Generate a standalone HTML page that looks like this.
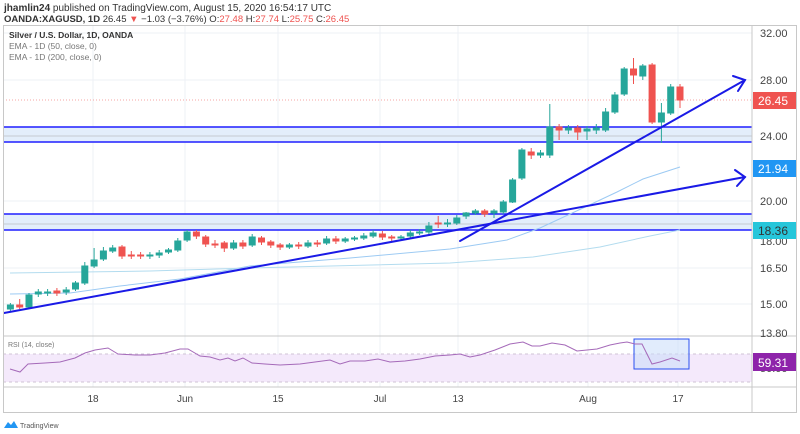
<!DOCTYPE html>
<html><head><meta charset="utf-8"><style>
body{margin:0;background:#fff;width:800px;height:434px;overflow:hidden;font-family:"Liberation Sans",sans-serif}
svg{position:absolute;left:0;top:0}
</style></head><body>
<svg width="800" height="434" viewBox="0 0 800 434" font-family="Liberation Sans, sans-serif">
<text x="4" y="11" font-size="10" fill="#333"><tspan font-weight="bold">jhamlin24</tspan> published on TradingView.com, August 15, 2020 16:54:17 UTC</text>
<text x="4" y="22" font-size="9.5" fill="#333"><tspan font-weight="bold">OANDA:XAGUSD, 1D</tspan> 26.45 <tspan fill="#ef5350">▼</tspan> −1.03 (−3.76%) O:<tspan fill="#ef5350">27.48</tspan> H:<tspan fill="#ef5350">27.74</tspan> L:<tspan fill="#ef5350">25.75</tspan> C:<tspan fill="#ef5350">26.45</tspan></text>
<!-- grid -->
<g stroke="#edf1f6" stroke-width="1">
<line x1="3" y1="33" x2="752" y2="33"/><line x1="3" y1="80" x2="752" y2="80"/><line x1="3" y1="136" x2="752" y2="136"/><line x1="3" y1="201" x2="752" y2="201"/><line x1="3" y1="268" x2="752" y2="268"/><line x1="3" y1="304" x2="752" y2="304"/>
<line x1="93" y1="26" x2="93" y2="387"/><line x1="185" y1="26" x2="185" y2="387"/><line x1="278" y1="26" x2="278" y2="387"/><line x1="380" y1="26" x2="380" y2="387"/><line x1="458" y1="26" x2="458" y2="387"/><line x1="588" y1="26" x2="588" y2="387"/><line x1="678" y1="26" x2="678" y2="387"/>
</g>
<!-- bands -->
<rect x="3" y="127" width="749" height="15" fill="#e3eefb"/>
<rect x="3" y="214" width="749" height="16" fill="#e3eefb"/>
<line x1="3" y1="224" x2="752" y2="224" stroke="#c4c9d0"/>
<line x1="3" y1="136" x2="752" y2="136" stroke="#c4c9d0"/>
<g stroke="#1f1fff" stroke-width="1.5">
<line x1="3" y1="127" x2="752" y2="127"/><line x1="3" y1="142" x2="752" y2="142"/>
<line x1="3" y1="214" x2="752" y2="214"/><line x1="3" y1="230" x2="752" y2="230"/>
</g>
<line x1="3" y1="100" x2="752" y2="100" stroke="#f4a5a3" stroke-dasharray="1,2"/>
<!-- EMAs -->
<polyline fill="none" stroke="#9ccaf3" stroke-width="1" points="10,294 70,293 120,286 180,279 250,266 350,258 450,249 507,240 540,228 583,208 617,192 643,179 680,167"/>
<polyline fill="none" stroke="#b3dcef" stroke-width="1" points="10,273 150,271 250,268 450,263 533,257 600,247 650,236 680,230"/>
<!-- candles -->
<g stroke-width="1">
<g fill="#26a69a" stroke="#26a69a">
<line x1="10.4" y1="303" x2="10.4" y2="312"/><rect x="7.4" y="305" width="6" height="4"/>
<line x1="29" y1="293" x2="29" y2="309"/><rect x="26" y="295" width="6" height="12"/>
<line x1="38.3" y1="289" x2="38.3" y2="297"/><rect x="35.3" y="292" width="6" height="2"/>
<line x1="47.6" y1="289" x2="47.6" y2="296"/><rect x="44.6" y="292" width="6" height="1"/>
<line x1="66.2" y1="287" x2="66.2" y2="295"/><rect x="63.2" y="290" width="6" height="2"/>
<line x1="75.5" y1="281" x2="75.5" y2="291"/><rect x="72.5" y="283" width="6" height="6"/>
<line x1="84.8" y1="262" x2="84.8" y2="285"/><rect x="81.8" y="266" width="6" height="17"/>
<line x1="94.1" y1="248" x2="94.1" y2="268"/><rect x="91.1" y="260" width="6" height="6"/>
<line x1="103.4" y1="247" x2="103.4" y2="261"/><rect x="100.4" y="251" width="6" height="8"/>
<line x1="112.7" y1="245" x2="112.7" y2="253"/><rect x="109.7" y="248" width="6" height="3"/>
<line x1="149.9" y1="252" x2="149.9" y2="259"/><rect x="146.9" y="255" width="6" height="1"/>
<line x1="159.2" y1="250" x2="159.2" y2="258"/><rect x="156.2" y="253" width="6" height="2"/>
<line x1="168.5" y1="248" x2="168.5" y2="254"/><rect x="165.5" y="250" width="6" height="2"/>
<line x1="177.8" y1="238" x2="177.8" y2="252"/><rect x="174.8" y="241" width="6" height="9"/>
<line x1="187.1" y1="230" x2="187.1" y2="242"/><rect x="184.1" y="232" width="6" height="8"/>
<line x1="233.6" y1="240" x2="233.6" y2="250"/><rect x="230.6" y="243" width="6" height="5"/>
<line x1="252.2" y1="234" x2="252.2" y2="247"/><rect x="249.2" y="237" width="6" height="8"/>
<line x1="289.4" y1="243" x2="289.4" y2="249"/><rect x="286.4" y="245" width="6" height="2"/>
<line x1="308" y1="240" x2="308" y2="248"/><rect x="305" y="243" width="6" height="3"/>
<line x1="326.6" y1="236" x2="326.6" y2="245"/><rect x="323.6" y="239" width="6" height="4"/>
<line x1="345.2" y1="237" x2="345.2" y2="243"/><rect x="342.2" y="239" width="6" height="2"/>
<line x1="354.5" y1="236" x2="354.5" y2="241"/><rect x="351.5" y="238" width="6" height="1"/>
<line x1="363.8" y1="233" x2="363.8" y2="240"/><rect x="360.8" y="236" width="6" height="2"/>
<line x1="373.1" y1="230" x2="373.1" y2="238"/><rect x="370.1" y="233" width="6" height="3"/>
<line x1="401" y1="235" x2="401" y2="240"/><rect x="398" y="237" width="6" height="1"/>
<line x1="410.3" y1="230" x2="410.3" y2="239"/><rect x="407.3" y="233" width="6" height="3"/>
<line x1="419.6" y1="229" x2="419.6" y2="235"/><rect x="416.6" y="232" width="6" height="1"/>
<line x1="428.9" y1="222" x2="428.9" y2="234"/><rect x="425.9" y="226" width="6" height="6"/>
<line x1="447.5" y1="219" x2="447.5" y2="227"/><rect x="444.5" y="223" width="6" height="1"/>
<line x1="456.8" y1="215" x2="456.8" y2="225"/><rect x="453.8" y="218" width="6" height="5"/>
<line x1="466.1" y1="212" x2="466.1" y2="219"/><rect x="463.1" y="213" width="6" height="3"/>
<line x1="475.4" y1="209" x2="475.4" y2="215"/><rect x="472.4" y="211" width="6" height="2"/>
<line x1="494" y1="209" x2="494" y2="218"/><rect x="491" y="211" width="6" height="2"/>
<line x1="503.3" y1="200" x2="503.3" y2="214"/><rect x="500.3" y="202" width="6" height="10"/>
<line x1="512.6" y1="178" x2="512.6" y2="203"/><rect x="509.6" y="180" width="6" height="22"/>
<line x1="521.9" y1="148" x2="521.9" y2="180"/><rect x="518.9" y="150" width="6" height="28"/>
<line x1="540.5" y1="150" x2="540.5" y2="158"/><rect x="537.5" y="153" width="6" height="2"/>
<line x1="549.8" y1="104" x2="549.8" y2="158"/><rect x="546.8" y="127" width="6" height="28"/>
<line x1="568.4" y1="125" x2="568.4" y2="134"/><rect x="565.4" y="128" width="6" height="2"/>
<line x1="587" y1="126" x2="587" y2="140"/><rect x="584" y="129" width="6" height="2"/>
<line x1="596.3" y1="124" x2="596.3" y2="134"/><rect x="593.3" y="128" width="6" height="2"/>
<line x1="605.6" y1="108" x2="605.6" y2="132"/><rect x="602.6" y="112" width="6" height="18"/>
<line x1="614.9" y1="92" x2="614.9" y2="114"/><rect x="611.9" y="95" width="6" height="17"/>
<line x1="624.2" y1="67" x2="624.2" y2="96"/><rect x="621.2" y="69" width="6" height="25"/>
<line x1="642.8" y1="64" x2="642.8" y2="80"/><rect x="639.8" y="66" width="6" height="10"/>
<line x1="661.4" y1="103" x2="661.4" y2="143"/><rect x="658.4" y="113" width="6" height="9"/>
<line x1="670.7" y1="84" x2="670.7" y2="115"/><rect x="667.7" y="87" width="6" height="26"/>
</g>
<g fill="#ef5350" stroke="#ef5350">
<line x1="19.7" y1="299" x2="19.7" y2="309"/><rect x="16.7" y="305" width="6" height="2"/>
<line x1="56.9" y1="288" x2="56.9" y2="296"/><rect x="53.9" y="291" width="6" height="2"/>
<line x1="122" y1="245" x2="122" y2="259"/><rect x="119" y="247" width="6" height="9"/>
<line x1="131.3" y1="251" x2="131.3" y2="259"/><rect x="128.3" y="255" width="6" height="1"/>
<line x1="140.6" y1="252" x2="140.6" y2="259"/><rect x="137.6" y="255" width="6" height="1"/>
<line x1="196.4" y1="230" x2="196.4" y2="239"/><rect x="193.4" y="232" width="6" height="4"/>
<line x1="205.7" y1="235" x2="205.7" y2="247"/><rect x="202.7" y="237" width="6" height="7"/>
<line x1="215" y1="240" x2="215" y2="248"/><rect x="212" y="244" width="6" height="1"/>
<line x1="224.3" y1="241" x2="224.3" y2="252"/><rect x="221.3" y="243" width="6" height="5"/>
<line x1="242.9" y1="240" x2="242.9" y2="249"/><rect x="239.9" y="243" width="6" height="3"/>
<line x1="261.5" y1="236" x2="261.5" y2="245"/><rect x="258.5" y="238" width="6" height="4"/>
<line x1="270.8" y1="240" x2="270.8" y2="248"/><rect x="267.8" y="242" width="6" height="3"/>
<line x1="280.1" y1="243" x2="280.1" y2="250"/><rect x="277.1" y="245" width="6" height="2"/>
<line x1="298.7" y1="242" x2="298.7" y2="249"/><rect x="295.7" y="245" width="6" height="1"/>
<line x1="317.3" y1="240" x2="317.3" y2="247"/><rect x="314.3" y="243" width="6" height="1"/>
<line x1="335.9" y1="236" x2="335.9" y2="244"/><rect x="332.9" y="239" width="6" height="2"/>
<line x1="382.4" y1="231" x2="382.4" y2="240"/><rect x="379.4" y="234" width="6" height="3"/>
<line x1="391.7" y1="235" x2="391.7" y2="242"/><rect x="388.7" y="237" width="6" height="1"/>
<line x1="438.2" y1="216" x2="438.2" y2="228"/><rect x="435.2" y="223" width="6" height="1"/>
<line x1="484.7" y1="209" x2="484.7" y2="217"/><rect x="481.7" y="211" width="6" height="3"/>
<line x1="531.2" y1="148" x2="531.2" y2="159"/><rect x="528.2" y="152" width="6" height="3"/>
<line x1="559.1" y1="124" x2="559.1" y2="140"/><rect x="556.1" y="127" width="6" height="3"/>
<line x1="577.7" y1="125" x2="577.7" y2="140"/><rect x="574.7" y="128" width="6" height="4"/>
<line x1="633.5" y1="58" x2="633.5" y2="84"/><rect x="630.5" y="69" width="6" height="6"/>
<line x1="652.1" y1="63" x2="652.1" y2="124"/><rect x="649.1" y="65" width="6" height="57"/>
<line x1="680" y1="84" x2="680" y2="108"/><rect x="677" y="87" width="6" height="13"/>
</g>
</g>
<!-- trend lines -->
<g stroke="#1a1ae6" stroke-width="2" fill="none" stroke-linecap="round">
<line x1="4" y1="313" x2="745" y2="177"/>
<polyline points="735,170 745,177 737,186"/>
<line x1="460" y1="241" x2="745" y2="80"/>
<polyline points="733,76 745,80 738,91"/>
</g>
<!-- legend -->
<text x="9" y="38" font-size="8.5" fill="#333" font-weight="bold">Silver / U.S. Dollar, 1D, OANDA</text>
<text x="9" y="49" font-size="8.5" fill="#777">EMA - 1D (50, close, 0)</text>
<text x="9" y="60" font-size="8.5" fill="#777">EMA - 1D (200, close, 0)</text>
<!-- RSI pane -->
<line x1="3" y1="336" x2="797" y2="336" stroke="#c8c8c8"/>
<rect x="3" y="354" width="749" height="28" fill="#f4e9fb"/>
<line x1="3" y1="354" x2="752" y2="354" stroke="#cfc3d6" stroke-dasharray="3,3"/>
<line x1="3" y1="382" x2="752" y2="382" stroke="#cfc3d6" stroke-dasharray="3,3"/>
<rect x="634" y="339" width="55" height="30" fill="rgba(200,220,250,0.55)" stroke="#2a50f0" stroke-width="1"/>
<polyline fill="none" stroke="#a56ab9" stroke-width="1" points="10,369 20,372 28,364 45,363 60,362 75,358 85,353 95,350 108,348 118,354 135,355 150,355 165,353 180,349 188,349 200,356 210,357 220,360 228,358 235,361 243,358 252,363 265,364 280,365 300,364 315,362 330,360 340,364 350,361 365,361 378,359 390,362 405,361 420,359 435,356 450,355 460,354 470,357 480,355 495,350 510,344 523,342 532,346 540,346 552,343 565,345 577,351 587,350 597,349 610,345 620,343 627,342 635,344 642,344 652,364 660,362 672,358 680,361"/>
<text x="8" y="347" font-size="7" fill="#777">RSI (14, close)</text>
<!-- date axis -->
<line x1="3" y1="387" x2="797" y2="387" stroke="#c8c8c8"/>
<g font-size="10" fill="#444" text-anchor="middle">
<text x="93" y="402">18</text><text x="185" y="402">Jun</text><text x="278" y="402">15</text><text x="380" y="402">Jul</text><text x="458" y="402">13</text><text x="588" y="402">Aug</text><text x="678" y="402">17</text>
</g>
<!-- frame -->
<rect x="3.5" y="25.5" width="793" height="387" fill="none" stroke="#c8c8c8"/>
<line x1="752" y1="26" x2="752" y2="412" stroke="#c8c8c8"/>
<!-- price axis -->
<g font-size="11" fill="#444">
<text x="760" y="37">32.00</text><text x="760" y="84">28.00</text><text x="760" y="140">24.00</text><text x="760" y="205">20.00</text><text x="760" y="245">18.00</text><text x="760" y="272">16.50</text><text x="760" y="308">15.00</text><text x="760" y="337">13.80</text><text x="760" y="372">50.00</text>
</g>
<rect x="753" y="92" width="43" height="17" fill="#ef5350"/><text x="758" y="105" font-size="12" fill="#fff">26.45</text>
<rect x="753" y="160" width="43" height="17" fill="#2196f3"/><text x="758" y="173" font-size="12" fill="#fff">21.94</text>
<rect x="753" y="222" width="43" height="17" fill="#26c6da"/><text x="758" y="235" font-size="12" fill="#333">18.36</text>
<rect x="753" y="353" width="43" height="18" fill="#8e24aa"/><text x="758" y="367" font-size="12" fill="#fff">59.31</text>
<!-- logo -->
<path d="M4 428 l4 -6 l3 3 l3 -4 l4 7 z" fill="#2196f3"/>
<text x="20" y="428" font-size="7" fill="#555">TradingView</text>
</svg>
</body></html>
